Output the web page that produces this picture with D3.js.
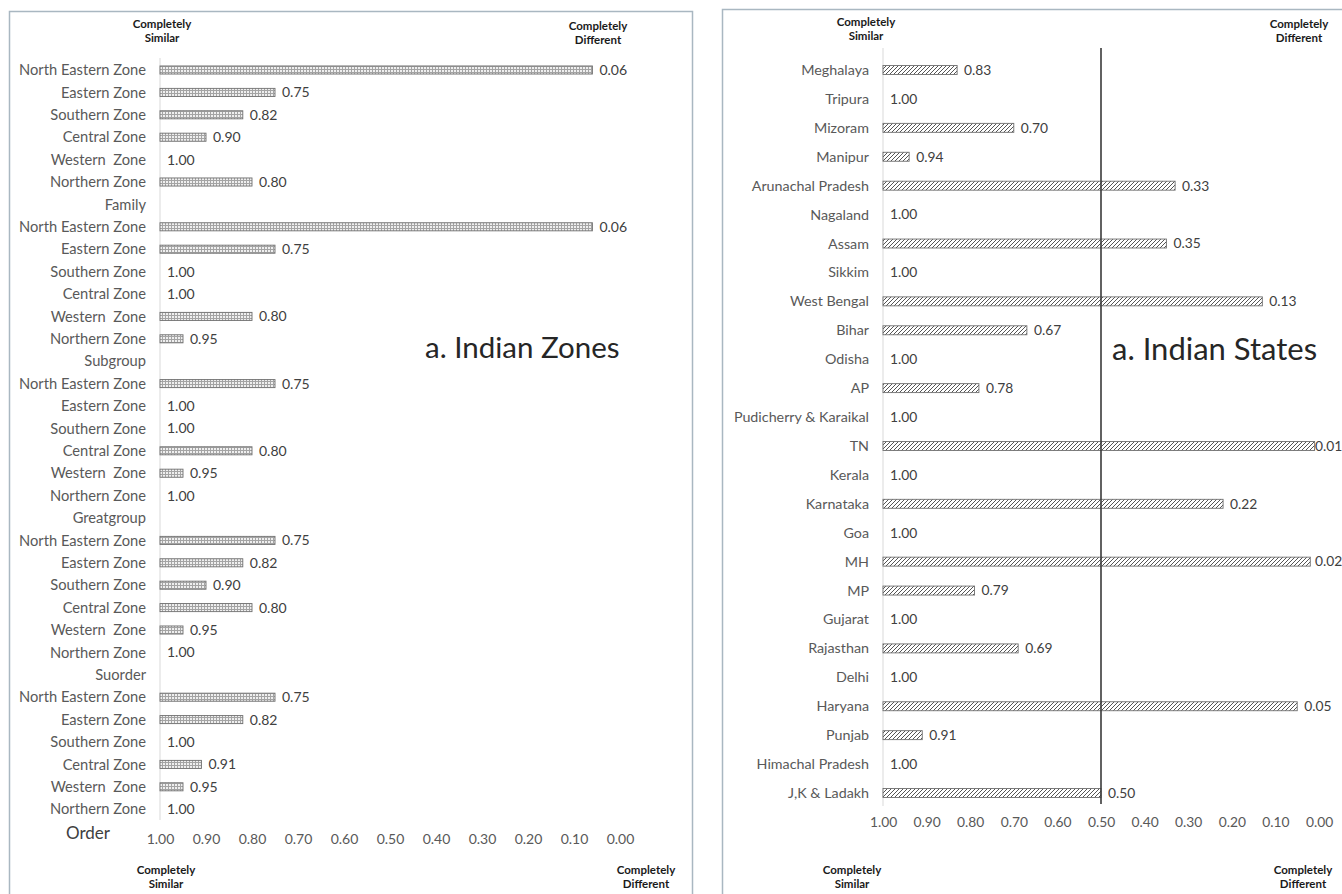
<!DOCTYPE html>
<html>
<head>
<meta charset="utf-8">
<script src="https://cdn.jsdelivr.net/npm/d3@7/dist/d3.min.js"></script>
<style>
  html, body { margin: 0; padding: 0; background: #fff; }
  svg { display: block; font-family: Lato, "Open Sans", sans-serif; }
</style>
</head>
<body>
<svg id="chart" width="1342" height="894"></svg>
<script>
// Similarity index by zone, listed top to bottom (group labels carry no value)
const zoneLabels = [
  "North Eastern Zone", "Eastern Zone", "Southern Zone", "Central Zone", "Western  Zone", "Northern Zone",
  "Family",
  "North Eastern Zone", "Eastern Zone", "Southern Zone", "Central Zone", "Western  Zone", "Northern Zone",
  "Subgroup",
  "North Eastern Zone", "Eastern Zone", "Southern Zone", "Central Zone", "Western  Zone", "Northern Zone",
  "Greatgroup",
  "North Eastern Zone", "Eastern Zone", "Southern Zone", "Central Zone", "Western  Zone", "Northern Zone",
  "Suorder",
  "North Eastern Zone", "Eastern Zone", "Southern Zone", "Central Zone", "Western  Zone", "Northern Zone",
  "Order"
];
const zoneValues = [
  0.06, 0.75, 0.82, 0.90, 1.00, 0.80,
  null,
  0.06, 0.75, 1.00, 1.00, 0.80, 0.95,
  null,
  0.75, 1.00, 1.00, 0.80, 0.95, 1.00,
  null,
  0.75, 0.82, 0.90, 0.80, 0.95, 1.00,
  null,
  0.75, 0.82, 1.00, 0.91, 0.95, 1.00,
  null
];

// Similarity index by state, listed top to bottom
const stateLabels = [
  "Meghalaya", "Tripura", "Mizoram", "Manipur", "Arunachal Pradesh", "Nagaland", "Assam",
  "Sikkim", "West Bengal", "Bihar", "Odisha", "AP", "Pudicherry & Karaikal", "TN", "Kerala",
  "Karnataka", "Goa", "MH", "MP", "Gujarat", "Rajasthan", "Delhi", "Haryana", "Punjab",
  "Himachal Pradesh", "J,K & Ladakh"
];
const stateValues = [
  0.83, 1.00, 0.70, 0.94, 0.33, 1.00, 0.35,
  1.00, 0.13, 0.67, 1.00, 0.78, 1.00, 0.01, 1.00,
  0.22, 1.00, 0.02, 0.79, 1.00, 0.69, 1.00, 0.05, 0.91,
  1.00, 0.50
];

const tickValues = [1.0, 0.9, 0.8, 0.7, 0.6, 0.5, 0.4, 0.3, 0.2, 0.1, 0.0];
const referenceValue = 0.50;

const svg = d3.select("#chart");
const fmt = d3.format(".2f");

// fill patterns for the two panels
const defs = svg.append("defs");
const grid = defs.append("pattern")
  .attr("id", "gridFill").attr("patternUnits", "userSpaceOnUse")
  .attr("width", 3).attr("height", 3);
grid.append("rect").attr("width", 3).attr("height", 3).attr("fill", "#efefef");
grid.append("path").attr("d", "M0,0.5H3M0.5,0V3")
  .attr("stroke", "#a4a4a4").attr("stroke-width", 1);

const hatch = defs.append("pattern")
  .attr("id", "hatchFill").attr("patternUnits", "userSpaceOnUse")
  .attr("width", 4).attr("height", 4);
hatch.append("rect").attr("width", 4).attr("height", 4).attr("fill", "#ffffff");
hatch.append("path").attr("d", "M-1,1L1,-1M0,4L4,0M3,5L5,3")
  .attr("stroke", "#555").attr("stroke-width", 1);

function endLabels(g, cx, cy, lines) {
  const t = g.append("text")
    .attr("x", cx).attr("y", cy)
    .attr("text-anchor", "middle")
    .attr("font-size", 11.5).attr("font-weight", 700)
    .attr("fill", "#1a1a1a");
  lines.forEach((s, i) => t.append("tspan").attr("x", cx).attr("dy", i === 0 ? 0 : 14).text(s));
}

function panel(cfg) {
  const g = svg.append("g");

  // frame
  g.append("rect")
    .attr("x", cfg.frame[0]).attr("y", cfg.frame[1])
    .attr("width", cfg.frame[2]).attr("height", cfg.frame[3])
    .attr("fill", "#fff").attr("stroke", "#a9b7c1").attr("stroke-width", 1.5);

  const x = d3.scaleLinear().domain([1, 0]).range(cfg.xRange);
  const keys = cfg.labels.map((d, i) => i);
  const y = d3.scaleBand().domain(keys).range(cfg.yRange).paddingInner(cfg.pad).paddingOuter(cfg.pad / 2);

  // category axis line
  g.append("line")
    .attr("x1", x(1)).attr("x2", x(1))
    .attr("y1", cfg.axisLine[0]).attr("y2", cfg.axisLine[1])
    .attr("stroke", "#d9d9d9").attr("stroke-width", 1);

  const isSpecial = i => cfg.special ? cfg.special(i) : false;

  // category labels
  g.selectAll("text.cat").data(keys).join("text")
    .attr("class", "cat")
    .attr("x", i => isSpecial(i) ? cfg.specialX : x(1) - 14)
    .attr("y", i => y(i) + y.bandwidth() / 2 + (isSpecial(i) ? 1 : 0))
    .attr("dy", "0.35em")
    .attr("text-anchor", i => isSpecial(i) ? "start" : "end")
    .attr("font-size", i => isSpecial(i) ? 17 : cfg.labelSize)
    .attr("fill", i => isSpecial(i) ? "#404040" : "#595959")
    .attr("xml:space", "preserve")
    .text(i => cfg.labels[i]);

  const rows = keys.filter(i => cfg.values[i] != null);

  // bars
  g.selectAll("rect.bar").data(rows).join("rect")
    .attr("class", "bar")
    .attr("x", x(1))
    .attr("y", i => y(i))
    .attr("width", i => x(cfg.values[i]) - x(1))
    .attr("height", y.bandwidth())
    .attr("fill", cfg.fill)
    .attr("stroke", i => cfg.values[i] === 1 ? "none" : "#6f6f6f")
    .attr("stroke-width", 0.9);

  // value labels
  g.selectAll("text.val").data(rows).join("text")
    .attr("class", "val")
    .attr("x", i => Math.min(x(cfg.values[i]) + 7, cfg.labelMaxX))
    .attr("y", i => y(i) + y.bandwidth() / 2)
    .attr("dy", "0.35em")
    .attr("font-size", cfg.valueSize)
    .attr("fill", "#404040")
    .text(i => fmt(cfg.values[i]));

  // value axis
  const axis = g.append("g")
    .attr("transform", `translate(0,${cfg.tickY})`)
    .call(d3.axisBottom(x).tickValues(tickValues).tickFormat(fmt).tickSize(0).tickPadding(0));
  axis.select(".domain").remove();
  axis.selectAll("text")
    .attr("font-family", "Lato, 'Open Sans', sans-serif")
    .attr("font-size", cfg.valueSize)
    .attr("fill", "#595959")
    .attr("dy", "0.35em");

  // reference line
  if (cfg.refLine) {
    g.append("line")
      .attr("x1", x(referenceValue)).attr("x2", x(referenceValue))
      .attr("y1", cfg.refLine[0]).attr("y2", cfg.refLine[1])
      .attr("stroke", "#3a3a3a").attr("stroke-width", 1.6);
  }

  // panel title
  g.append("text")
    .attr("x", cfg.title[0]).attr("y", cfg.title[1])
    .attr("font-size", cfg.title[3]).attr("fill", "#262626")
    .text(cfg.title[2]);

  endLabels(g, cfg.topSim[0], cfg.topSim[1], ["Completely", "Similar"]);
  endLabels(g, cfg.topDiff[0], cfg.topDiff[1], ["Completely", "Different"]);
  endLabels(g, cfg.botSim[0], cfg.botSim[1], ["Completely", "Similar"]);
  endLabels(g, cfg.botDiff[0], cfg.botDiff[1], ["Completely", "Different"]);
}

panel({
  frame: [9.5, 11.5, 683, 900],
  labels: zoneLabels,
  values: zoneValues,
  xRange: [160, 620],
  yRange: [58.8, 58.8 + 35 * 22.4],
  pad: 0.64,
  axisLine: [58, 820],
  labelSize: 14.7,
  valueSize: 14,
  labelMaxX: 660,
  tickY: 839,
  special: i => i === zoneLabels.length - 1,
  specialX: 66,
  fill: "url(#gridFill)",
  title: [425, 358, "a. Indian Zones", 29.5],
  topSim: [162, 28], topDiff: [598, 30],
  botSim: [166, 874], botDiff: [646, 874]
});

panel({
  frame: [722.5, 9.5, 640, 900],
  labels: stateLabels,
  values: stateValues,
  xRange: [883, 1319],
  yRange: [55.54, 55.54 + 26 * 28.92],
  pad: 0.69,
  axisLine: [48, 806],
  labelSize: 14.3,
  valueSize: 13.8,
  labelMaxX: 1315,
  tickY: 822,
  fill: "url(#hatchFill)",
  refLine: [48, 804],
  title: [1112, 360, "a. Indian States", 31],
  topSim: [866, 26], topDiff: [1299, 28],
  botSim: [852, 874], botDiff: [1303, 874]
});
</script>
</body>
</html>
